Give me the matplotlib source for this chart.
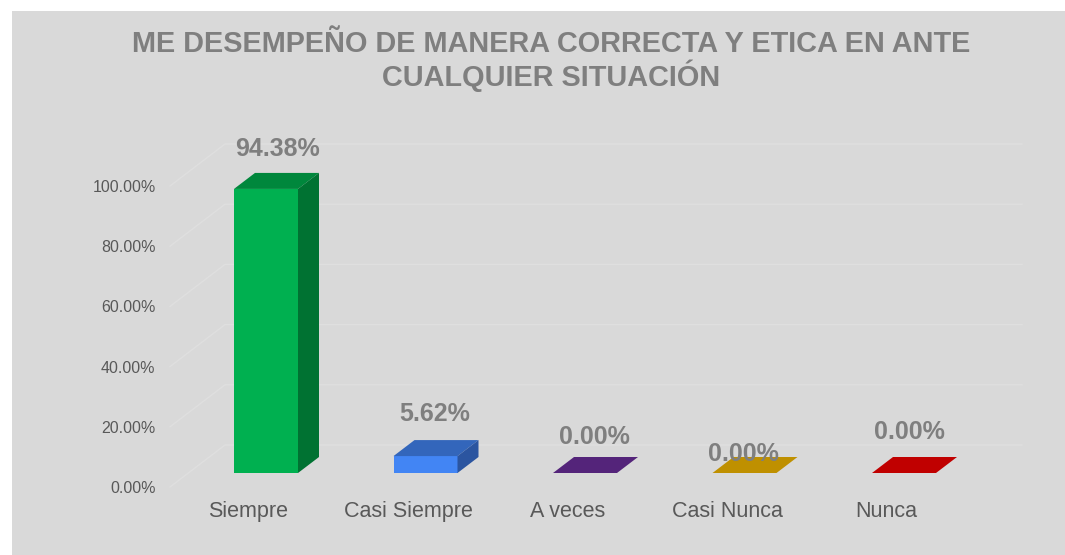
import matplotlib
matplotlib.use("Agg")
import matplotlib.pyplot as plt
from matplotlib.patches import Polygon, Rectangle

categories = ["Siempre", "Casi Siempre", "A veces", "Casi Nunca", "Nunca"]
values = [94.38, 5.62, 0.0, 0.0, 0.0]
yticks = [0, 20, 40, 60, 80, 100]
title = "ME DESEMPEÑO DE MANERA CORRECTA Y ETICA EN ANTE\nCUALQUIER SITUACIÓN"

front_colors = ["#00B050", "#4285F4", "#7030A0", "#FFC000", "#FF0000"]
top_colors = ["#00873C", "#3366BB", "#54247A", "#BF9000", "#C00000"]
side_colors = ["#007232", "#2B55A0", "#43195F", "#9A7400", "#9A0000"]
# label offsets in pixels (x, y) from the front-top centre of each bar
label_offsets = [(12, 33), (9.5, 35), (9, 29), (-1.5, 12), (5.5, 34)]

W, H = 1065, 555
PX_CAT = 159.5   # pixels per category
PX_PCT = 3.01    # pixels per percent
X0_PX, Y0_PX = 248.5, 487   # pixel position of category 0 at 0%

def px_to_x(px):
    return (px - X0_PX) / PX_CAT

def px_to_y(py):
    return (Y0_PX - py) / PX_PCT

fig = plt.figure(figsize=(W / 100, H / 100), dpi=100)
fig.patch.set_facecolor("white")
fig.patches.append(Rectangle((12 / W, 0), 1 - 12 / W, (H - 11) / H,
                             transform=fig.transFigure, facecolor="#D9D9D9",
                             edgecolor="none", zorder=-5))

left, right, top, bottom = 166, 1035, 120, 498
ax = fig.add_axes([left / W, (H - bottom) / H, (right - left) / W, (bottom - top) / H])
ax.set_zorder(2)
ax.set_xlim(px_to_x(left), px_to_x(right))
ax.set_ylim(px_to_y(bottom), px_to_y(top))
ax.set_facecolor("none")
for s in ax.spines.values():
    s.set_visible(False)

# 3d-ish gridlines: diagonal on the side wall then back wall line
xf = px_to_x(170)
wall_dx = 55 / PX_CAT
wall_dy = 42 / PX_PCT
xr = px_to_x(1022)
for v in yticks:
    ax.plot([xf, xf + wall_dx, xr], [v, v + wall_dy, v + wall_dy],
            color="#DFDFDF", lw=1.0, zorder=1)

# bars
fx = 17.5 / PX_CAT
fy = 14 / PX_PCT
bw = 64 / PX_CAT
ddx = 21 / PX_CAT
ddy = 16 / PX_PCT
xs = list(range(len(categories)))
ax.bar([x + fx for x in xs], values, width=bw, bottom=fy,
       color=front_colors, edgecolor="none", zorder=3)
for i, v in enumerate(values):
    x0 = i + fx - bw / 2
    x1 = i + fx + bw / 2
    b = fy
    t = fy + v
    ax.add_patch(Polygon([(x0, t), (x1, t), (x1 + ddx, t + ddy), (x0 + ddx, t + ddy)],
                         closed=True, facecolor=top_colors[i], edgecolor="none", zorder=3))
    if v > 0:
        ax.add_patch(Polygon([(x1, b), (x1 + ddx, b + ddy), (x1 + ddx, t + ddy), (x1, t)],
                             closed=True, facecolor=side_colors[i], edgecolor="none", zorder=3))
    ox, oy = label_offsets[i]
    ax.annotate(f"{v:.2f}%", xy=(i + fx, t), xytext=(ox, oy), textcoords="offset pixels",
                ha="center", va="baseline", fontsize=18, fontweight="bold",
                color="#7F7F7F", family="Liberation Sans", zorder=5)

ax.set_yticks(yticks)
ax.set_yticklabels([f"{v:.2f}%" for v in yticks], family="Liberation Sans",
                   fontsize=11.5, color="#595959")
ax.set_xticks(xs)
ax.set_xticklabels(categories, family="Liberation Sans", fontsize=15.5, color="#595959")
ax.tick_params(axis="y", length=0, pad=7.5)
ax.tick_params(axis="x", length=0, pad=2.5)

fig.text(551 / W, 1 - 61 / H, title, ha="center", va="center", fontsize=20.8,
         fontweight="bold", color="#7F7F7F", family="Liberation Sans", linespacing=1.02)

fig.savefig("out.png", dpi=100)
